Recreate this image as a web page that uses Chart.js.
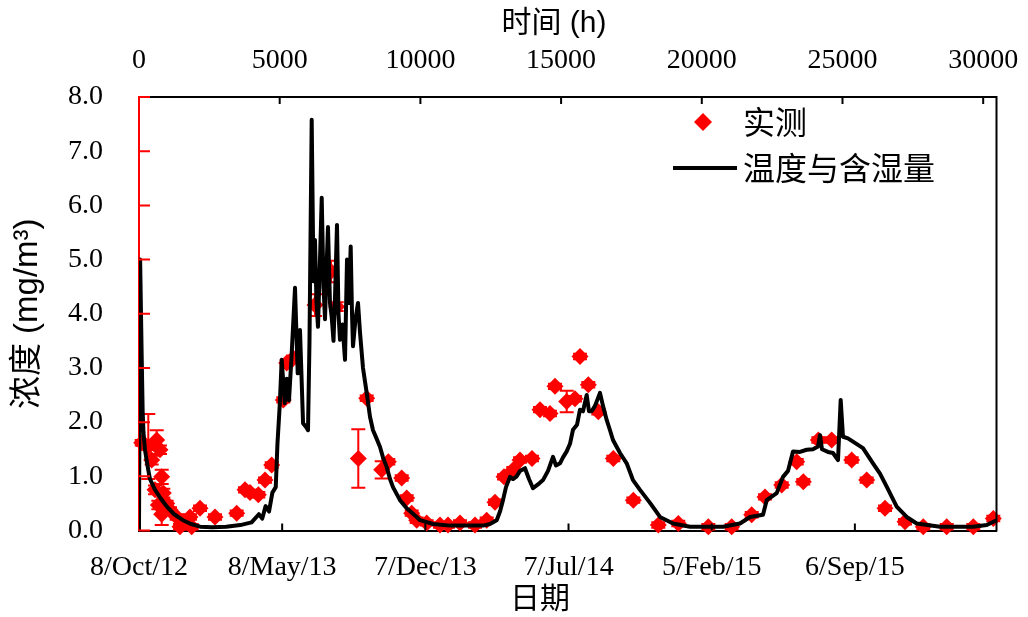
<!DOCTYPE html>
<html><head><meta charset="utf-8">
<script src="https://cdn.jsdelivr.net/npm/chart.js@4/dist/chart.umd.min.js"></script>
<style>html,body{margin:0;padding:0;background:#fff;}canvas{display:block;}</style>
</head><body>
<canvas id="c" width="1028" height="617"></canvas>
<script>
// ---- data (hours since 8/Oct/12) ----
const modelHours = [0,40,96,130,160,210,300,390,570,760,990,1250,1560,1850,2170,2600,3100,3600,4000,4260,4380,4500,4620,4740,4860,4920,5000,5071,5180,5250,5330,5420,5544,5640,5721,5830,5950,6006,6059,6137,6201,6254,6308,6361,6432,6493,6557,6610,6663,6716,6787,6848,6912,6965,7036,7089,7143,7232,7321,7392,7463,7523,7570,7605,7694,7783,7854,7960,8092,8209,8316,8440,8565,8671,8803,8920,9026,9275,9513,9869,9986,10448,11052,12225,12473,12711,12829,12935,13042,13184,13291,13422,13539,13717,13859,14001,14179,14357,14535,14712,14819,14961,15068,15199,15316,15423,15565,15672,15778,15910,15991,16087,16205,16382,16489,16620,16738,16844,17093,17331,17555,17804,18159,18515,18977,19581,20753,21357,21713,22175,22306,22662,22886,23063,23241,23490,23728,23952,24129,24200,24271,24485,24662,24840,24936,25018,25195,25373,25728,26084,26333,26571,26926,27281,27637,28465,29638,30125,30473];
const modelValues = [0,5.0,3.2,2.2,1.8,1.5,1.2,0.95,0.75,0.6,0.44,0.3,0.19,0.12,0.07,0.06,0.07,0.1,0.15,0.3,0.22,0.45,0.35,0.7,0.8,1.6,2.3,3.15,2.35,2.8,2.4,3.2,4.48,2.9,3.7,1.98,1.9,1.85,3.5,7.58,4.6,5.36,4.2,3.76,5.0,6.14,4.5,3.9,4.8,5.6,4.2,3.94,3.5,4.3,5.64,4.0,3.52,3.8,3.15,5.0,4.2,5.24,4.0,3.4,3.9,4.2,3.65,3.0,2.54,2.1,1.85,1.7,1.54,1.35,1.17,0.95,0.8,0.56,0.41,0.25,0.19,0.12,0.09,0.09,0.12,0.19,0.35,0.56,0.8,0.99,0.95,1.0,1.1,1.15,0.95,0.78,0.85,0.93,1.1,1.36,1.2,1.24,1.35,1.46,1.6,1.86,1.95,2.23,2.2,2.5,2.2,2.2,2.3,2.54,2.3,2.04,1.85,1.67,1.43,1.24,0.93,0.75,0.51,0.25,0.13,0.07,0.07,0.13,0.25,0.29,0.56,0.69,0.99,1.1,1.46,1.45,1.49,1.5,1.55,1.76,1.5,1.45,1.43,1.3,2.41,1.73,1.7,1.64,1.52,1.24,1.05,0.81,0.44,0.25,0.13,0.07,0.07,0.1,0.19];

const obsHours = [96,153,330,451,569,629,686,746,807,807,864,984,1102,1340,1457,1812,1873,2168,2701,3472,3767,3945,4240,4478,4716,5128,5249,5483,6254,6823,7026,7793,8092,8625,8859,9336,9513,9691,9869,10224,10697,10981,11407,11940,12356,12651,12971,13301,13539,13966,14250,14606,14783,15199,15494,15672,15967,16322,16855,17566,18454,19165,20231,21063,21774,22246,22840,23373,23607,24140,24616,25327,25860,26510,27221,27871,28703,29649,30359];
const obsValues = [1.62,1.61,1.55,1.3,0.75,1.67,0.47,1.49,0.99,0.3,0.69,0.5,0.38,0.25,0.07,0.25,0.07,0.41,0.25,0.32,0.75,0.7,0.66,0.93,1.21,2.41,3.09,3.18,4.16,4.78,4.13,1.33,2.44,1.12,1.27,0.97,0.6,0.32,0.19,0.14,0.1,0.1,0.14,0.1,0.19,0.52,0.99,1.12,1.3,1.33,2.23,2.16,2.66,2.38,2.43,3.21,2.69,2.19,1.33,0.56,0.1,0.13,0.07,0.07,0.29,0.62,0.84,1.27,0.9,1.67,1.67,1.3,0.93,0.41,0.16,0.07,0.07,0.07,0.22];
const obsErr = [0.05,0.05,0.6,0.08,0.08,0.18,0.08,0.08,0.13,0.2,0.08,0.05,0.05,0.05,0.05,0.05,0.05,0.05,0.05,0.05,0.05,0.05,0.05,0.05,0.05,0.05,0.05,0.05,0.2,0.2,0.08,0.54,0.05,0.16,0.05,0.05,0.05,0.05,0.05,0.05,0.05,0.05,0.05,0.05,0.05,0.05,0.05,0.05,0.05,0.05,0.05,0.05,0.05,0.2,0.05,0.05,0.05,0.05,0.05,0.05,0.05,0.05,0.05,0.05,0.05,0.05,0.05,0.05,0.05,0.05,0.05,0.05,0.05,0.05,0.05,0.05,0.05,0.05,0.05];

const dateTickLabels = ['8/Oct/12','8/May/13','7/Dec/13','7/Jul/14','5/Feb/15','6/Sep/15'];
const dateTickStepHours = 5088;
const hourTickValues = [0,5000,10000,15000,20000,25000,30000];
const yTickValues = [0,1,2,3,4,5,6,7,8];
const seriesNames = ['温度与含湿量','实测'];
const axisTitles = {top:'时间 (h)', bottom:'日期', left:'浓度 (mg/m³)'};

// ---- styles ----
const RED = '#ff0000';
const SERIF = '"Liberation Serif","Times New Roman",serif';
const CJK = '"Liberation Sans","Noto Sans CJK SC",sans-serif';
const X_MAX = 30473;

const decorPlugin = {
  id: 'decor',
  afterDatasetDraw(chart, args) {
    if (args.index !== 1) return;
    const ctx = chart.ctx, xs = chart.scales.x, ys = chart.scales.y;
    ctx.save();
    ctx.strokeStyle = RED; ctx.lineWidth = 2;
    obsHours.forEach((h, i) => {
      const e = obsErr[i];
      const x = xs.getPixelForValue(h);
      const y1 = ys.getPixelForValue(Math.max(0, obsValues[i] - e));
      const y2 = ys.getPixelForValue(obsValues[i] + e);
      ctx.beginPath();
      ctx.moveTo(x, y1); ctx.lineTo(x, y2);
      ctx.moveTo(x - 7, y1); ctx.lineTo(x + 7, y1);
      ctx.moveTo(x - 7, y2); ctx.lineTo(x + 7, y2);
      ctx.stroke();
    });
    ctx.restore();
  },
  afterDraw(chart) {
    const ctx = chart.ctx, ca = chart.chartArea;
    const xs = chart.scales.x, xt = chart.scales.x2, ys = chart.scales.y;
    ctx.save();
    ctx.strokeStyle = '#000'; ctx.lineWidth = 2;
    ctx.beginPath(); ctx.moveTo(ca.right, ca.top - 1); ctx.lineTo(ca.right, ca.bottom + 1); ctx.stroke();
    ctx.beginPath();
    xt.ticks.forEach(t => { if (t.value === 0) return; const x = xt.getPixelForValue(t.value); ctx.moveTo(x, ca.top); ctx.lineTo(x, ca.top + 7); });
    xs.ticks.forEach(t => { if (t.value === 0) return; const x = xs.getPixelForValue(t.value); ctx.moveTo(x, ca.bottom); ctx.lineTo(x, ca.bottom - 7); });
    ctx.stroke();
    ctx.strokeStyle = RED; ctx.beginPath();
    ys.ticks.forEach(t => { const y = ys.getPixelForValue(t.value); ctx.moveTo(ca.left, y); ctx.lineTo(ca.left + 11, y); });
    ctx.stroke();
    ctx.fillStyle = '#000'; ctx.textAlign = 'center'; ctx.textBaseline = 'middle';
    ctx.font = '30px ' + CJK;
    ctx.fillText(axisTitles.top, 554, 24);
    ctx.fillText(axisTitles.bottom, 540, 600);
    const obsDs = chart.data.datasets[1], lineDs = chart.data.datasets[0];
    ctx.fillStyle = RED;
    ctx.beginPath(); ctx.moveTo(694, 122); ctx.lineTo(703, 113); ctx.lineTo(712, 122); ctx.lineTo(703, 131); ctx.closePath(); ctx.fill();
    ctx.strokeStyle = '#000'; ctx.lineWidth = 4;
    ctx.beginPath(); ctx.moveTo(673, 168); ctx.lineTo(737, 168); ctx.stroke();
    ctx.fillStyle = '#000'; ctx.textAlign = 'left'; ctx.font = '32px "Noto Sans CJK SC",sans-serif';
    ctx.fillText(obsDs.label, 743, 122);
    ctx.fillText(lineDs.label, 743, 168);
    ctx.restore();
  }
};

new Chart(document.getElementById('c'), {
  type: 'scatter',
  data: {
    datasets: [
      {
        type: 'line', label: seriesNames[0],
        data: modelHours.map((h, i) => ({x: h, y: modelValues[i]})),
        borderColor: '#000', borderWidth: 4, pointRadius: 0, tension: 0, fill: false, order: 0,
        borderJoinStyle: 'round'
      },
      {
        type: 'scatter', label: seriesNames[1],
        data: obsHours.map((h, i) => ({x: h, y: obsValues[i]})),
        pointStyle: 'rectRot', pointRadius: 8.5, backgroundColor: RED, borderColor: RED, borderWidth: 0, order: 1, clip: false
      }
    ]
  },
  options: {
    responsive: false, animation: false, devicePixelRatio: 1,
    layout: {padding: {left: 0, right: 31.5, top: 0, bottom: 0}},
    plugins: {legend: {display: false}, tooltip: {enabled: false}},
    scales: {
      x: {
        type: 'linear', position: 'bottom', min: 0, max: X_MAX,
        afterBuildTicks: s => { s.ticks = dateTickLabels.map((_, i) => ({value: i * dateTickStepHours})); },
        afterFit: s => { s.height = 86.5; s.paddingLeft = 0; s.paddingRight = 0; },
        grid: {display: false, drawTicks: false},
        border: {display: true, color: '#000', width: 2},
        ticks: {autoSkip: false, maxRotation: 0, padding: 20, color: '#000', font: {family: SERIF, size: 28},
          callback: (v, i) => dateTickLabels[i]}
      },
      x2: {
        type: 'linear', position: 'top', min: 0, max: X_MAX,
        afterBuildTicks: s => { s.ticks = hourTickValues.map(v => ({value: v})); },
        afterFit: s => { s.height = 97; s.paddingLeft = 0; s.paddingRight = 0; },
        grid: {display: false, drawTicks: false},
        border: {display: true, color: '#000', width: 2},
        ticks: {autoSkip: false, maxRotation: 0, padding: 20, color: '#000', font: {family: SERIF, size: 28},
          callback: v => String(v)}
      },
      y: {
        type: 'linear', position: 'left', min: 0, max: 8,
        afterBuildTicks: s => { s.ticks = yTickValues.map(v => ({value: v})); },
        afterFit: s => { s.width = 139; s.paddingTop = 0; s.paddingBottom = 0; },
        grid: {display: false, drawTicks: false},
        border: {display: true, color: RED, width: 2},
        ticks: {padding: 36, color: '#000', font: {family: SERIF, size: 28}, callback: v => v.toFixed(1)},
        title: {display: true, text: axisTitles.left, color: '#000', font: {family: CJK, size: 33}, padding: {top: 8, bottom: 0}}
      }
    }
  },
  plugins: [decorPlugin]
});
</script>
</body></html>
